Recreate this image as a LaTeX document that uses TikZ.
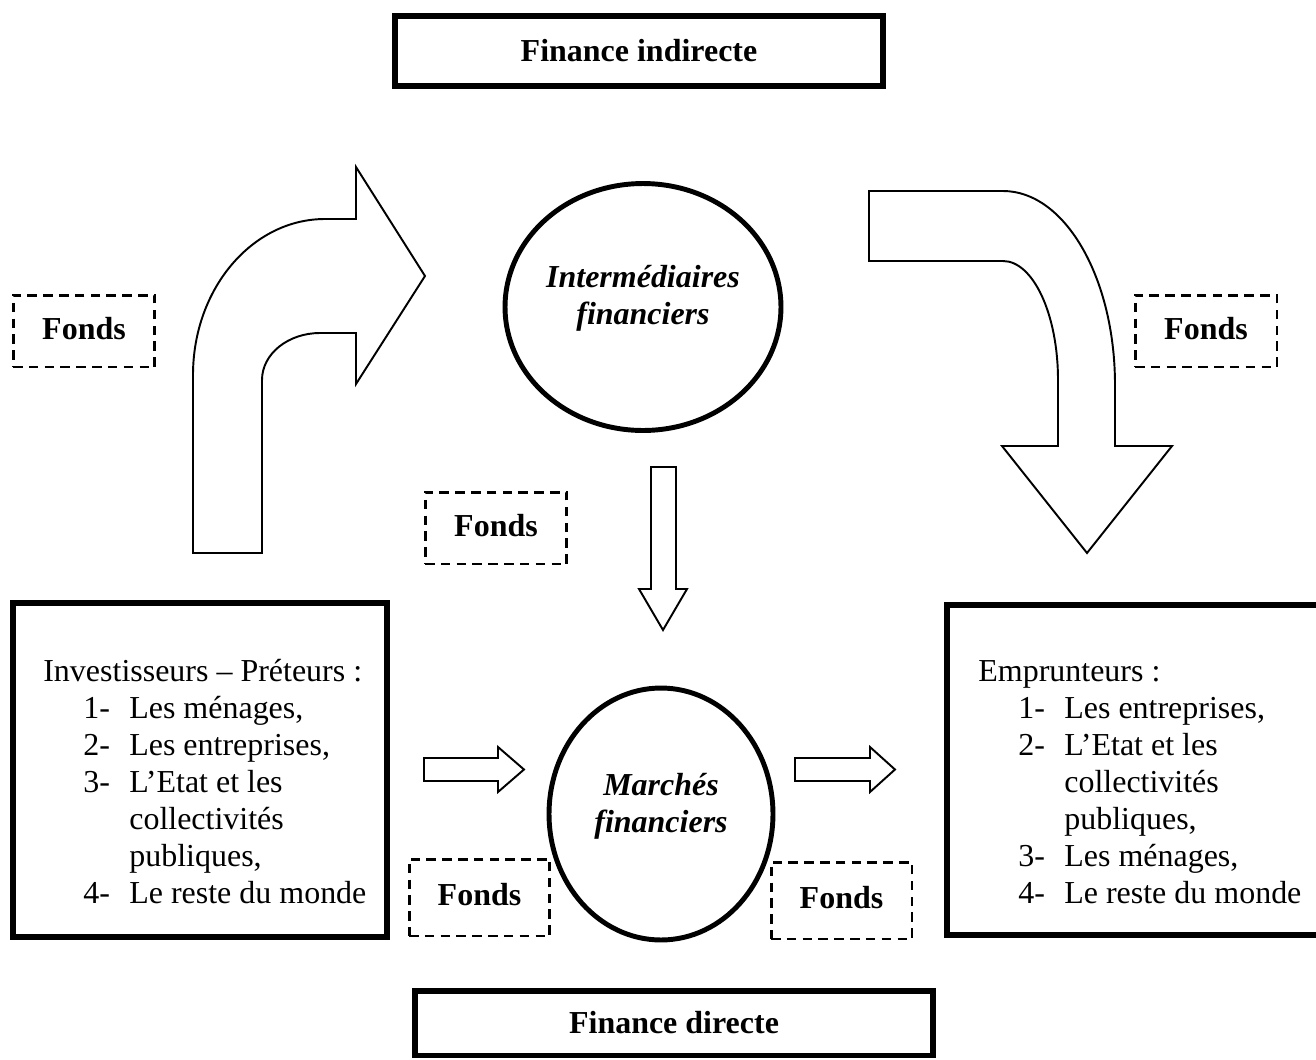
\documentclass[tikz,border=0pt]{standalone}
\usepackage{fontspec}
\setmainfont{Liberation Serif}
\usepackage{tikz}
\usetikzlibrary{shapes,shapes.geometric,positioning}
\newcommand{\bodysize}{\fontsize{18.2}{21}\selectfont}
\newcommand{\itm}[2]{\hspace*{0.8cm}\makebox[0.92cm][l]{#1}#2}
\newcommand{\cont}[1]{\hspace*{1.72cm}#1}

\begin{document}
\begin{tikzpicture}[
    x=0.02cm, y=-0.02cm,
    titlebox/.style={rectangle, draw, line width=3.4pt, font=\bodysize\bfseries},
    listbox/.style={rectangle, draw, line width=3.4pt},
    listtext/.style={align=left, inner sep=0pt, font=\bodysize},
    oval/.style={ellipse, draw, line width=2.8pt},
    ovaltext/.style={align=center, inner sep=0pt, font=\bodysize\bfseries\itshape},
    fondsbox/.style={rectangle, draw, line width=1.7pt, dash pattern=on 5.4pt off 3.6pt, minimum width=2.84cm, minimum height=1.44cm, text depth=0.3em, font=\bodysize\bfseries},
    blockarrow/.style={draw, line width=1.1pt, line join=miter}
]
    \useasboundingbox (0,0) rectangle (1316,1059);

    % Title boxes
    \node[titlebox, minimum width=9.76cm, minimum height=1.4cm] (indirect) at (639,51) {Finance indirecte};
    \node[titlebox, minimum width=10.36cm, minimum height=1.3cm] (direct) at (674,1023) {Finance directe};

    % Lenders and borrowers
    \node[listbox, minimum width=7.48cm, minimum height=6.68cm] (lenders) at (200,770) {};
    \node[listtext, anchor=base west] (lenderstxt) at (43,903) {Investisseurs – Préteurs :\\
        \itm{1-}{Les ménages,}\\
        \itm{2-}{Les entreprises,}\\
        \itm{3-}{L’Etat et les}\\
        \cont{collectivités}\\
        \cont{publiques,}\\
        \itm{4-}{Le reste du monde}};
    \node[listbox, minimum width=7.5cm, minimum height=6.6cm] (borrowers) at (1134.5,770) {};
    \node[listtext, anchor=base west] (borrowerstxt) at (978,903) {Emprunteurs :\\
        \itm{1-}{Les entreprises,}\\
        \itm{2-}{L’Etat et les}\\
        \cont{collectivités}\\
        \cont{publiques,}\\
        \itm{3-}{Les ménages,}\\
        \itm{4-}{Le reste du monde}};

    % Intermediaries and markets
    \node[oval, minimum width=5.52cm, minimum height=4.94cm] (interm) at (643,307) {};
    \node[ovaltext] (intermtxt) at (643,298) {Intermédiaires\\financiers};
    \node[oval, minimum width=4.48cm, minimum height=5.04cm] (markets) at (661,814) {};
    \node[ovaltext] (marketstxt) at (661,806) {Marchés\\financiers};

    % Funds labels
    \node[fondsbox] (fondsA) at (84,331) {Fonds};
    \node[fondsbox] (fondsB) at (1206,331) {Fonds};
    \node[fondsbox] (fondsC) at (496,528) {Fonds};
    \node[fondsbox, minimum width=2.82cm, minimum height=1.54cm] (fondsD) at (479.5,897.5) {Fonds};
    \node[fondsbox, minimum width=2.82cm, minimum height=1.54cm] (fondsE) at (841.5,900.5) {Fonds};

    % Curved arrow up to the intermediaries
    \draw[blockarrow] (193,553) -- (193,375) .. controls (193,289) and (252,219) .. (325,219)
        -- (356,219) -- (356,167) -- (425,276) -- (356,384) -- (356,333) -- (320,333)
        .. controls (288,333) and (262,354) .. (262,380) -- (262,553) -- cycle;

    % Curved arrow down to the borrowers
    \draw[blockarrow] (869,191) -- (1003,191) .. controls (1065,191) and (1115,278) .. (1115,385)
        -- (1115,446) -- (1172,446) -- (1087,553) -- (1002,446) -- (1058,446) -- (1058,380)
        .. controls (1058,314) and (1033,261) .. (1003,261) -- (869,261) -- cycle;

    % Straight arrows
    \draw[blockarrow] (651,467) -- (676,467) -- (676,589) -- (687,589) -- (663,630) -- (639,589) -- (651,589) -- cycle;
    \draw[blockarrow] (424,758) -- (498,758) -- (498,747) -- (524,769.5) -- (498,792) -- (498,781) -- (424,781) -- cycle;
    \draw[blockarrow] (795,758) -- (870,758) -- (870,747) -- (895,769.5) -- (870,792) -- (870,781) -- (795,781) -- cycle;
\end{tikzpicture}
\end{document}
